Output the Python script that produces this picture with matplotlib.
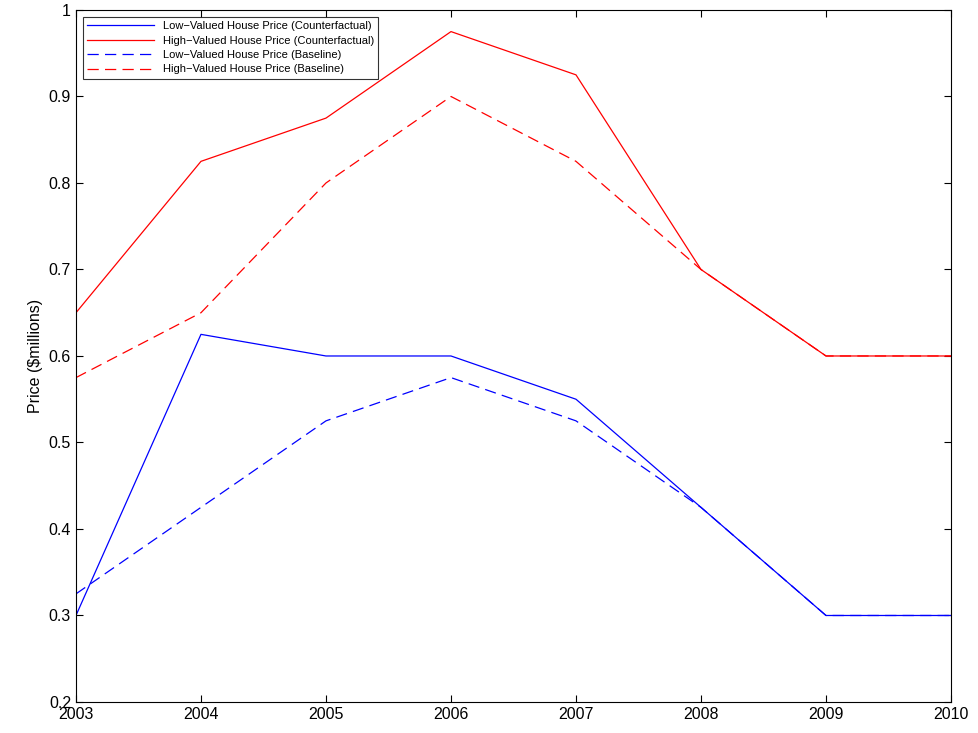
import matplotlib
matplotlib.use("Agg")
import matplotlib.pyplot as plt
plt.rcParams['font.family'] = ['Liberation Sans', 'DejaVu Sans']

years = [2003, 2004, 2005, 2006, 2007, 2008, 2009, 2010]
low_cf = [0.3, 0.625, 0.6, 0.6, 0.55, 0.425, 0.3, 0.3]
high_cf = [0.65, 0.825, 0.875, 0.975, 0.925, 0.7, 0.6, 0.6]
low_bl = [0.325, 0.425, 0.525, 0.575, 0.525, 0.425, 0.3, 0.3]
high_bl = [0.575, 0.65, 0.8, 0.9, 0.825, 0.7, 0.6, 0.6]
yticks = [0.2, 0.3, 0.4, 0.5, 0.6, 0.7, 0.8, 0.9, 1]
ylabels = ["0.2", "0.3", "0.4", "0.5", "0.6", "0.7", "0.8", "0.9", "1"]

fig = plt.figure(figsize=(9.79, 7.33), dpi=100)
ax = fig.add_axes([0.0776, 0.0423, 0.8938, 0.9441])
lw = 0.9
ax.plot(years, low_cf, color="blue", lw=lw, label="Low\u2212Valued House Price (Counterfactual)")
ax.plot(years, high_cf, color="red", lw=lw, label="High\u2212Valued House Price (Counterfactual)")
ax.plot(years, low_bl, color="blue", lw=lw, ls=(0, (9, 5)), label="Low\u2212Valued House Price (Baseline)")
ax.plot(years, high_bl, color="red", lw=lw, ls=(0, (9, 5)), label="High\u2212Valued House Price (Baseline)")
ax.set_xlim(2003, 2010)
ax.set_ylim(0.2, 1)
ax.set_xticks(years)
ax.set_yticks(yticks)
ax.set_yticklabels(ylabels)
ax.tick_params(direction="in", top=True, right=True, labelsize=11.5, length=5)
ax.set_ylabel("Price ($millions)", fontsize=11.5)
leg = ax.legend(loc="upper left", fontsize=8, frameon=True, fancybox=False,
                edgecolor="black", borderaxespad=0.6, handlelength=6, labelspacing=0.4)
leg.get_frame().set_linewidth(0.8)
fig.savefig("out.png", dpi=100)
